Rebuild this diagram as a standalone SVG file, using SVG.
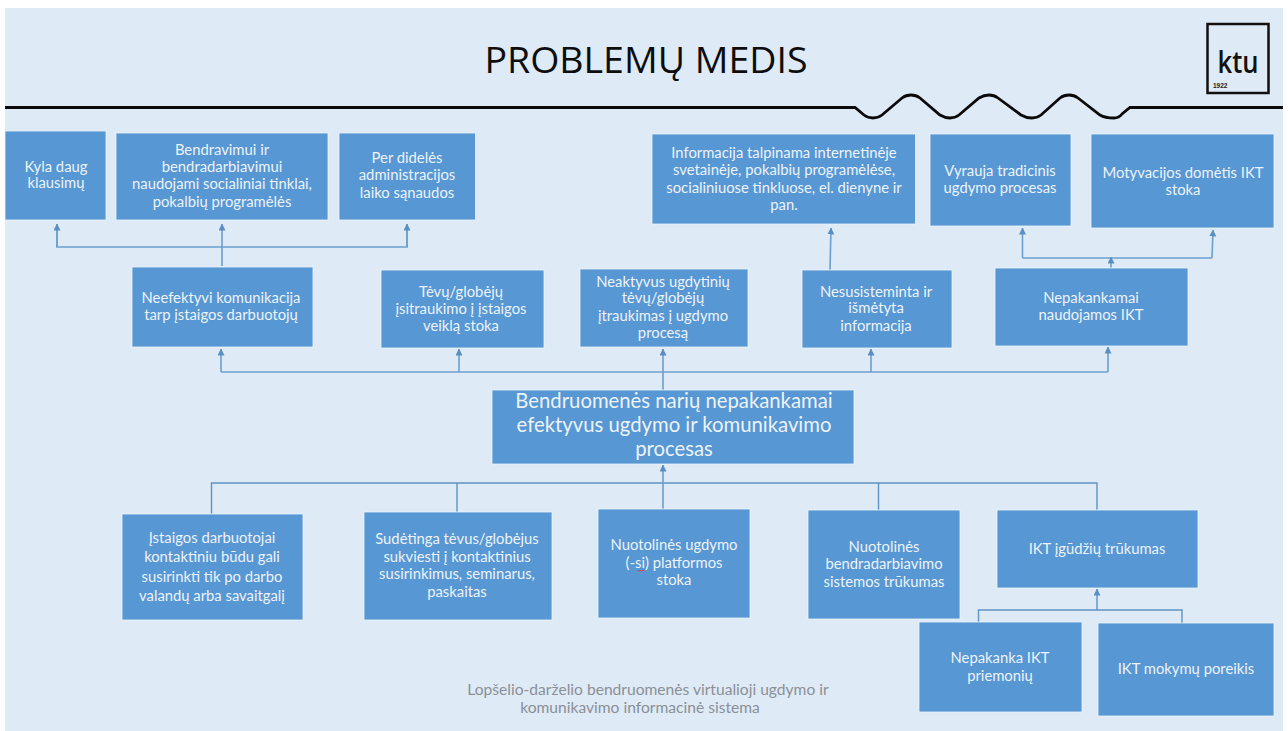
<svg xmlns="http://www.w3.org/2000/svg" width="1288" height="731" viewBox="0 0 1288 731">
<defs>
<style>
.n{fill:#5797d3;stroke:#eef4fa;stroke-width:.8}
text{font-family:"Lato","Open Sans","Liberation Sans",sans-serif}
.t{fill:#edf3f9;font-size:14.800px;text-anchor:middle}
.c{fill:#edf3f9;font-size:20.300px;text-anchor:middle}
.l{fill:none;stroke:#6b9fcd;stroke-width:1.6}
.d{fill:none;stroke:#5f93c1;stroke-width:1.4}
.h{fill:#5a8fc0}
</style>
<marker id="a" markerWidth="7" markerHeight="9" refX="6.5" refY="3.5" orient="auto" markerUnits="userSpaceOnUse"><path d="M0 0L7 3.5L0 7Z" class="h"/></marker>
</defs>
<rect width="1288" height="731" fill="#ffffff"/>
<rect x="5" y="8" width="1278" height="723" fill="#deeaf6"/>
<text x="646" y="73" font-size="36.500" fill="#0d0d0d" text-anchor="middle" style='font-family:"Open Sans","Liberation Sans",sans-serif' textLength="323" lengthAdjust="spacingAndGlyphs">PROBLEMŲ MEDIS</text>
<path d="M5 107.500H855L864 115Q868 118 873 118Q878 118 882 115L902 98Q906 95 911 95Q916 95 920 98L940 115Q945 118 950 118Q955 118 959 115L979 98Q984 95 989 95Q994 95 998 98L1021 115Q1026 118 1032 118Q1037 118 1041 115L1060 98Q1064 95 1069 95Q1074 95 1078 98L1100 115Q1105 118 1114 118Q1119 118 1122 114L1130 107.500H1283" fill="none" stroke="#0a0a0a" stroke-width="2.800"/>
<g id="logo">
<rect x="1207.500" y="24" width="61" height="69" fill="none" stroke="#111111" stroke-width="2.500"/>
<text x="1238" y="73" font-size="30" font-weight="600" fill="#111111" text-anchor="middle" style='font-family:"Open Sans","Liberation Sans",sans-serif' textLength="41" lengthAdjust="spacingAndGlyphs">ktu</text>
<text x="1213" y="87.500" font-size="6.500" font-weight="700" fill="#222222" style='font-family:"Liberation Sans",sans-serif'>1922</text>
</g>
<g id="connectors">
<path class="l" d="M222 266V224" marker-end="url(#a)"/>
<path class="l" d="M57 224V247H407V224"/>
<path class="l" d="M57 247V224" marker-end="url(#a)"/>
<path class="l" d="M407 247V224" marker-end="url(#a)"/>
<path class="l" d="M221 372H1108"/>
<path class="l" d="M221 372V349" marker-end="url(#a)"/>
<path class="l" d="M459 372V349" marker-end="url(#a)"/>
<path class="l" d="M663 390V349" marker-end="url(#a)"/>
<path class="l" d="M871 372V349" marker-end="url(#a)"/>
<path class="l" d="M1108 372V347" marker-end="url(#a)"/>
<path class="l" d="M830 270L831 228" marker-end="url(#a)"/>
<path class="l" d="M1022.500 258H1212"/>
<path class="l" d="M1022.500 258V228" marker-end="url(#a)"/>
<path class="l" d="M1212 258L1213 230" marker-end="url(#a)"/>
<path class="l" d="M1111 268V257" marker-end="url(#a)"/>
<path class="d" d="M211.500 514V483H1097V510"/>
<path class="d" d="M457 512V483"/>
<path class="l" d="M663 509V465" marker-end="url(#a)"/>
<path class="d" d="M878.500 510V483"/>
<path class="l" d="M1097 610V589" marker-end="url(#a)"/>
<path class="d" d="M978.500 622V610H1182V623"/>
</g>
<g id="n1"><rect class="n" x="5" y="131" width="101" height="89"/><text class="t"><tspan x="56" y="172">Kyla daug</tspan><tspan x="56" y="188">klausimų</tspan></text></g>
<g id="n2"><rect class="n" x="116" y="133" width="212" height="87"/><text class="t"><tspan x="222" y="155">Bendravimui ir</tspan><tspan x="222" y="172">bendradarbiavimui</tspan><tspan x="222" y="189">naudojami socialiniai tinklai,</tspan><tspan x="222" y="207">pokalbių programėlės</tspan></text></g>
<g id="n3"><rect class="n" x="339" y="133" width="136.500" height="87"/><text class="t"><tspan x="407" y="163">Per didelės</tspan><tspan x="407" y="180">administracijos</tspan><tspan x="407" y="198">laiko sąnaudos</tspan></text></g>
<g id="n4"><rect class="n" x="652" y="134" width="263.500" height="90"/><text class="t"><tspan x="784" y="158">Informacija talpinama internetinėje</tspan><tspan x="784" y="175">svetainėje, pokalbių programėlėse,</tspan><tspan x="784" y="193">socialiniuose tinkluose, el. dienyne ir</tspan><tspan x="784" y="210">pan.</tspan></text></g>
<g id="n5"><rect class="n" x="930" y="134" width="141" height="92"/><text class="t"><tspan x="1000" y="176">Vyrauja tradicinis</tspan><tspan x="1000" y="193">ugdymo procesas</tspan></text></g>
<g id="n6"><rect class="n" x="1091" y="134" width="183" height="94"/><text class="t"><tspan x="1183" y="178">Motyvacijos domėtis IKT</tspan><tspan x="1183" y="195">stoka</tspan></text></g>
<g id="n7"><rect class="n" x="132" y="267" width="181" height="80"/><text class="t"><tspan x="221" y="303">Neefektyvi komunikacija</tspan><tspan x="221" y="320">tarp įstaigos darbuotojų</tspan></text></g>
<g id="n8"><rect class="n" x="381" y="270" width="163" height="78"/><text class="t"><tspan x="461" y="297">Tėvų/globėjų</tspan><tspan x="461" y="314">įsitraukimo į įstaigos</tspan><tspan x="461" y="331">veiklą stoka</tspan></text></g>
<g id="n9"><rect class="n" x="580" y="269" width="168" height="78"/><text class="t"><tspan x="663" y="287">Neaktyvus ugdytinių</tspan><tspan x="663" y="303">tėvų/globėjų</tspan><tspan x="663" y="321">įtraukimas į ugdymo</tspan><tspan x="663" y="338">procesą</tspan></text></g>
<g id="n10"><rect class="n" x="802" y="270" width="150" height="78"/><text class="t"><tspan x="876" y="297">Nesusisteminta ir</tspan><tspan x="876" y="313">išmėtyta</tspan><tspan x="876" y="331">informacija</tspan></text></g>
<g id="n11"><rect class="n" x="995" y="268" width="193" height="78"/><text class="t"><tspan x="1091" y="303">Nepakankamai</tspan><tspan x="1091" y="320">naudojamos IKT</tspan></text></g>
<g id="center"><rect class="n" x="492" y="390" width="362" height="74"/><text class="c"><tspan x="674" y="408">Bendruomenės narių nepakankamai</tspan><tspan x="674" y="432">efektyvus ugdymo ir komunikavimo</tspan><tspan x="674" y="456">procesas</tspan></text></g>
<g id="n12"><rect class="n" x="122" y="514" width="181" height="106"/><text class="t"><tspan x="212" y="543">Įstaigos darbuotojai</tspan><tspan x="212" y="562">kontaktiniu būdu gali</tspan><tspan x="212" y="582">susirinkti tik po darbo</tspan><tspan x="212" y="601">valandų arba savaitgalį</tspan></text></g>
<g id="n13"><rect class="n" x="364" y="512" width="188" height="108"/><text class="t"><tspan x="457" y="544">Sudėtinga tėvus/globėjus</tspan><tspan x="457" y="562">sukviesti į kontaktinius</tspan><tspan x="457" y="579">susirinkimus, seminarus,</tspan><tspan x="457" y="597">paskaitas</tspan></text></g>
<g id="n14"><rect class="n" x="598" y="509" width="152" height="109"/><text class="t"><tspan x="674" y="550">Nuotolinės ugdymo</tspan><tspan x="674" y="568">(-si) platformos</tspan><tspan x="674" y="585">stoka</tspan></text><path d="M637 570l1.500 1.500 1.500-1.500 1.500 1.500 1.500-1.500 1.500 1.500" fill="none" stroke="#d9423c" stroke-width="1"/></g>
<g id="n15"><rect class="n" x="808" y="510" width="152" height="109"/><text class="t"><tspan x="884" y="552">Nuotolinės</tspan><tspan x="884" y="569">bendradarbiavimo</tspan><tspan x="884" y="587">sistemos trūkumas</tspan></text></g>
<g id="n16"><rect class="n" x="997" y="510" width="201" height="78"/><text class="t"><tspan x="1097" y="554">IKT įgūdžių trūkumas</tspan></text></g>
<g id="n17"><rect class="n" x="919" y="622" width="163" height="90"/><text class="t"><tspan x="1000" y="663">Nepakanka IKT</tspan><tspan x="1000" y="681">priemonių</tspan></text></g>
<g id="n18"><rect class="n" x="1098" y="623" width="176" height="93"/><text class="t"><tspan x="1186" y="674">IKT mokymų poreikis</tspan></text></g>
<text font-size="15.600" fill="#8b9097" text-anchor="middle"><tspan x="648" y="695">Lopšelio-darželio bendruomenės virtualioji ugdymo ir</tspan><tspan x="640" y="713">komunikavimo informacinė sistema</tspan></text>
</svg>
